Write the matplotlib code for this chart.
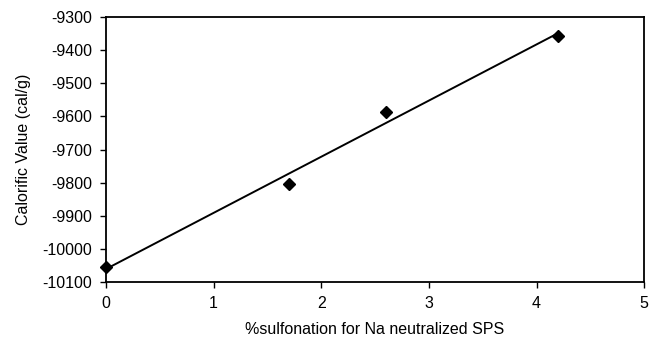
import matplotlib
matplotlib.use("Agg")
import matplotlib.pyplot as plt
import numpy as np

plt.rcParams['font.family'] = ['Liberation Sans', 'DejaVu Sans']
plt.rcParams['axes.unicode_minus'] = False

x_vals = [0.0, 1.7, 2.6, 4.2]
y_vals = [-10055, -9803, -9587, -9357]
x_ticks = [0, 1, 2, 3, 4, 5]
y_ticks = [-10100, -10000, -9900, -9800, -9700, -9600, -9500, -9400, -9300]

fig = plt.figure(figsize=(6.5, 3.47), dpi=100)
ax = fig.add_axes([0.163, 0.187, 0.828, 0.764])

coef = np.polyfit(x_vals, y_vals, 1)
xl = np.array([min(x_vals), max(x_vals)])
ax.plot(xl, np.polyval(coef, xl), color='black', lw=1.4, zorder=2)
ax.plot(x_vals, y_vals, linestyle='none', marker='D', markersize=6.5,
        color='black', zorder=3, clip_on=False)

ax.set_xlim(0, 5)
ax.set_ylim(-10100, -9300)
ax.set_xticks(x_ticks)
ax.set_yticks(y_ticks)
ax.tick_params(direction='out', length=4, width=1, labelsize=11.5, pad=6)
for s in ax.spines.values():
    s.set_linewidth(1.3)
ax.set_xlabel('%sulfonation for Na neutralized SPS', fontsize=11.5, labelpad=8)
ax.set_ylabel('Calorific Value (cal/g)', fontsize=11.5, labelpad=8)

fig.savefig('out.png', dpi=100)
